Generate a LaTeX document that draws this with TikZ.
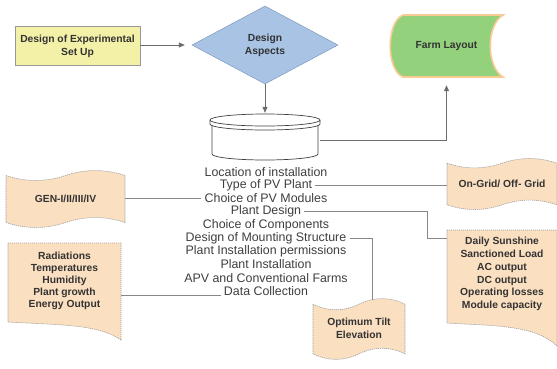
\documentclass[tikz,border=0pt]{standalone}
\usepackage{fontspec}
\setmainfont{Liberation Sans}
\usetikzlibrary{shapes.geometric,arrows.meta,positioning}

\definecolor{boxyellow}{RGB}{243,240,168}
\definecolor{aspectblue}{RGB}{168,195,228}
\definecolor{aspectedge}{RGB}{112,142,182}
\definecolor{farmgreen}{RGB}{148,209,125}
\definecolor{farmedge}{RGB}{247,203,145}
\definecolor{peach}{RGB}{251,223,193}
\definecolor{linegray}{RGB}{135,135,135}
\definecolor{textgray}{RGB}{62,62,62}

% wavy tape from (x1,y1) to (x2,y2), wave depth #5
\newcommand{\tapeshape}[5]{%
  \filldraw[tapeedge]
    (#1,{#2+#5/2})
    .. controls ({#1+(#3-#1)/6},{#2+1.1*#5}) and ({(#1+#3)/2-(#3-#1)/6},{#2+1.1*#5}) .. ({(#1+#3)/2},{#2+#5/2})
    .. controls ({(#1+#3)/2+(#3-#1)/6},{#2-0.1*#5}) and ({#3-(#3-#1)/6},{#2-0.1*#5}) .. (#3,{#2+#5/2})
    -- (#3,{#4-#5/2})
    .. controls ({#3-(#3-#1)/6},{#4-1.1*#5}) and ({(#1+#3)/2+(#3-#1)/6},{#4-1.1*#5}) .. ({(#1+#3)/2},{#4-#5/2})
    .. controls ({(#1+#3)/2-(#3-#1)/6},{#4+0.1*#5}) and ({#1+(#3-#1)/6},{#4+0.1*#5}) .. (#1,{#4-#5/2})
    -- cycle;}
% document sheet, bottom left at #4, bottom right at #5
\newcommand{\docshape}[5]{%
  \filldraw[tapeedge] (#1,#2) -- (#3,#2) -- (#3,#5)
    .. controls ({#3-0.2*(#3-#1)},{#4+2}) and ({#1+0.45*(#3-#1)},{#4+3}) .. (#1,#4) -- cycle;}

\begin{document}
\begin{tikzpicture}[x=1pt, y=-1pt,
  line/.style = {draw=linegray, line width=0.8pt},
  arr/.style = {line, -{Triangle[length=6pt, width=5pt]}, color=linegray!80!black},
  label/.style = {align=center, text=black!80, font=\bfseries\fontsize{10.3}{12.8}\selectfont},
  expbox/.style = {label, draw=gray!80, fill=boxyellow, minimum width=125pt, minimum height=39pt},
  aspect/.style = {label, diamond, draw=aspectedge, fill=aspectblue, minimum width=146pt, minimum height=78pt, inner sep=0pt},
  item/.style = {text=textgray, font=\fontsize{12.4}{14}\selectfont, inner sep=3pt},
  tapeedge/.style = {fill=peach, draw=gray!75, line width=0.6pt, dash pattern=on 1.2pt off 0.8pt},
  farm/.style = {fill=farmgreen, draw=farmedge, line width=1.6pt},
  dbstyle/.style = {fill=white, draw=black!75, line width=0.7pt}]
\useasboundingbox (0,0) rectangle (557,368);

% top row
\node[expbox] (exp) at (77.5,46) {Design of Experimental\\Set Up};
\node[aspect] (aspects) at (265,45) {Design\\Aspects};

\filldraw[farm] (403,15) -- (503,15) .. controls (486,25) and (486,67) .. (503,77)
  -- (403,77) .. controls (386,70) and (386,22) .. (403,15) -- cycle;
\node[label, minimum width=113pt, minimum height=62pt, inner sep=0pt] (farm) at (446.5,46) {Farm Layout};

% data store
\filldraw[dbstyle] (212,124) -- (212,154) arc[start angle=180, end angle=360, x radius=53pt, y radius=6pt] -- (318,124);
\filldraw[dbstyle] (210,120) -- (210,124) arc[start angle=180, end angle=360, x radius=55pt, y radius=6pt] -- (320,120);
\filldraw[dbstyle] (265,120) ellipse[x radius=55pt, y radius=6pt];
\node[minimum width=110pt, minimum height=47pt, inner sep=0pt] (db) at (265,136.5) {};

% design steps
\foreach \txt [count=\i] in {Location of installation, Type of PV Plant, Choice of PV Modules,
  Plant Design, Choice of Components, Design of Mounting Structure,
  Plant Installation permissions, Plant Installation, APV and Conventional Farms, Data Collection}
  \node[item] (l\i) at (266,{172+13.2*(\i-1)}) {\txt};

% side notes
\tapeshape{447}{158}{557}{210}{10.4}
\node[label, minimum width=110pt] (onoff) at (502,184) {On-Grid/ Off- Grid};
\tapeshape{6}{170}{125}{228}{11}
\node[label, minimum width=119pt] (gen) at (65.5,199) {GEN-I/II/III/IV};
\tapeshape{313}{298}{405}{360}{12.4}
\node[label, minimum width=92pt] (tilt) at (359,328) {Optimum Tilt\\Elevation};
\docshape{447}{230}{557}{323}{346}
\node[label, minimum width=110pt] (sun) at (502,274) {Daily Sunshine\\Sanctioned Load\\AC output\\DC output\\Operating losses\\Module capacity};
\docshape{8}{243}{121}{322}{340}
\node[label, minimum width=113pt, font=\bfseries\fontsize{10.3}{12}\selectfont] (rad) at (64.5,281) {Radiations\\Temperatures\\Humidity\\Plant growth\\Energy Output};

\coordinate (sunin) at (447,238);
\coordinate (tiltin) at (372,300);

% connectors
\draw[arr, shorten >=7pt] (exp.east |- aspects) -- (aspects);
\draw[arr] (aspects) -- (db);
\draw[arr, shorten >=8pt] ([yshift=-3.5pt]db.east) -| (farm.south);
\draw[line] (l2) -- (l2 -| onoff.west);
\draw[line] (gen.east |- l3) -- (l3);
\draw[line] (l4) -| ([xshift=-20pt]sunin) -- (sunin);
\draw[line] (l6) -| (tiltin);
\draw[line] (rad.east |- l10.base) -- (l10.base west);
\end{tikzpicture}
\end{document}
